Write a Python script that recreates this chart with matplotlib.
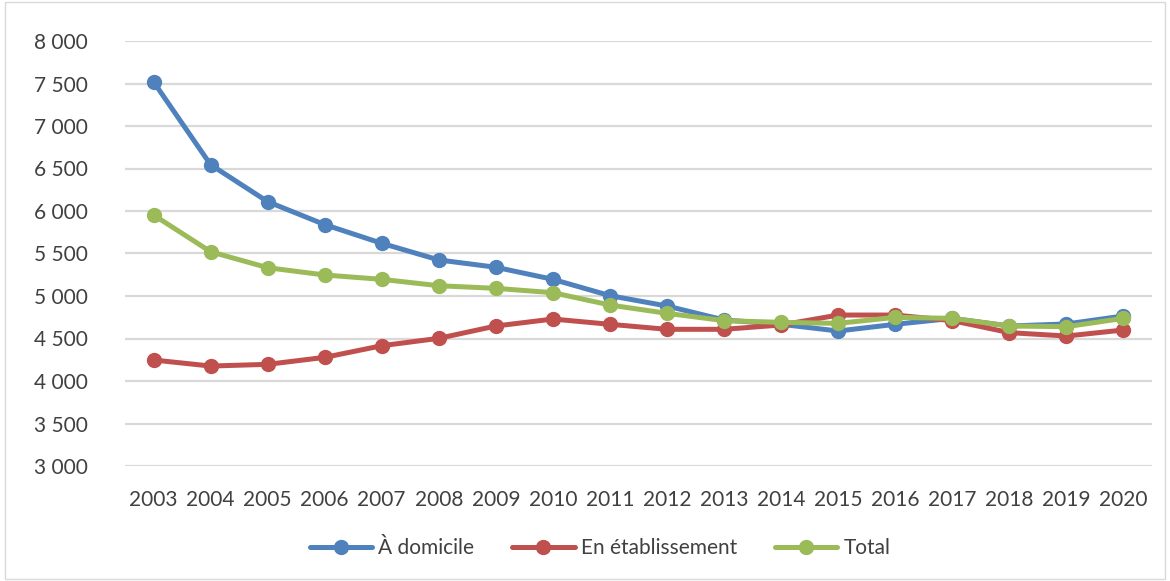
import matplotlib
matplotlib.use("Agg")
import matplotlib.pyplot as plt
from matplotlib.patches import Rectangle
from matplotlib.ticker import FuncFormatter

years = [str(y) for y in range(2003, 2021)]
domicile = [7520, 6545, 6110, 5840, 5620, 5424, 5338, 5196, 5004, 4882, 4718, 4667, 4588, 4667, 4737, 4647, 4671, 4765]
etablissement = [4247, 4176, 4196, 4278, 4415, 4502, 4647, 4729, 4667, 4608, 4608, 4659, 4776, 4776, 4710, 4569, 4529, 4600]
total = [5953, 5521, 5333, 5247, 5196, 5121, 5090, 5039, 4894, 4796, 4710, 4690, 4678, 4749, 4737, 4647, 4639, 4737]
series_names = ["À domicile", "En établissement", "Total"]
colors = ["#4F81BD", "#C0504D", "#9BBB59"]

plt.rcParams['font.family'] = ['Lato', 'DejaVu Sans']

fig = plt.figure(figsize=(11.7, 5.81), dpi=100)
ax = fig.add_axes([125/1170, 1-466/581, (1152-125)/1170, (466-41)/581])

x = list(range(len(years)))
for vals, name, c in zip([domicile, etablissement, total], series_names, colors):
    ax.plot(x, vals, color=c, lw=3.6, marker='o', markersize=10, label=name,
            solid_capstyle='round', solid_joinstyle='round')

ax.set_xlim(-0.5, len(years) - 0.5)
ax.set_ylim(3000, 8000)
ax.set_yticks(range(3000, 8001, 500))
ax.yaxis.set_major_formatter(FuncFormatter(lambda v, p: f"{int(v):,}".replace(",", " ")))
ax.set_xticks(x)
ax.set_xticklabels(years)
ax.grid(axis='y', color='#D9D9D9', lw=1.6)
ax.set_axisbelow(True)
for s in ax.spines.values():
    s.set_visible(False)
ax.tick_params(axis='both', length=0, labelsize=15, colors='#404040')
ax.tick_params(axis='x', pad=17)
ax.tick_params(axis='y', pad=27)

leg = fig.legend(loc='center', bbox_to_anchor=(600/1170, 1-548/581), ncol=3, frameon=False,
                 fontsize=15, handlelength=3.0, columnspacing=1.8, handletextpad=0.3)
for t in leg.get_texts():
    t.set_color('#404040')

fig.patches.append(Rectangle((0.004, 0.004), 0.992, 0.992, transform=fig.transFigure,
                             fill=False, edgecolor='#D9D9D9', lw=1))

fig.savefig("out.png", dpi=100)
